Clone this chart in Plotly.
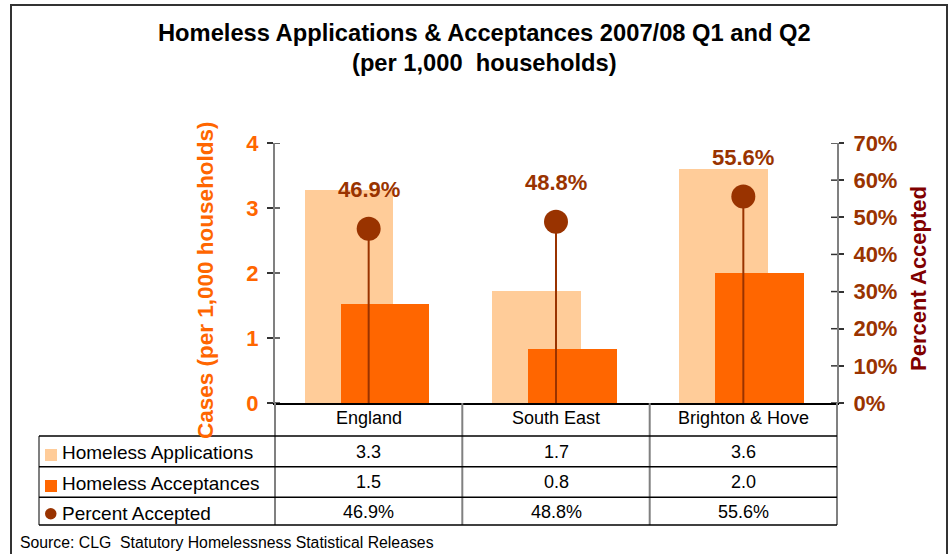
import plotly.graph_objects as go

# ---------------- data ----------------
categories = ["England", "South East", "Brighton & Hove"]
applications = [3.28, 1.72, 3.60]          # cases per 1,000 households
acceptances = [1.52, 0.83, 2.00]           # cases per 1,000 households
percent_accepted = [46.9, 48.8, 55.6]      # %
left_ticks = [0, 1, 2, 3, 4]
right_ticks = [0, 0.1, 0.2, 0.3, 0.4, 0.5, 0.6, 0.7]
row_labels = ["Homeless Applications", "Homeless Acceptances", "Percent Accepted"]

# ---------------- layout geometry (window pixels) ----------------
W, H = 952, 554
PL, PR, PT, PB = 275, 837, 143, 403      # plot area
PW, PHh = PR - PL, PB - PT

def px(x):
    return (x - PL) / PW

def py(y):
    return (PB - y) / PHh

FONT = "Liberation Sans, Arial, Helvetica, sans-serif"
C_APP = "#FFCC99"
C_ACC = "#FF6600"
C_PCT = "#993300"
C_PCT_TITLE = "#800000"
C_AXIS = "#808080"

fig = go.Figure()

fig.add_trace(go.Bar(
    x=categories, y=applications, name=row_labels[0],
    marker=dict(color=C_APP, line=dict(width=0)),
    width=0.473, offset=-0.342, showlegend=False, hoverinfo="y",
))
fig.add_trace(go.Bar(
    x=categories, y=acceptances, name=row_labels[1],
    marker=dict(color=C_ACC, line=dict(width=0)),
    width=0.473, offset=-0.150, showlegend=False, hoverinfo="y",
))
pct_frac = [v / 100 for v in percent_accepted]
fig.add_trace(go.Scatter(
    x=categories, y=pct_frac, yaxis="y2", mode="markers", name=row_labels[2],
    marker=dict(color=C_PCT, size=24, line=dict(width=0)),
    error_y=dict(type="data", symmetric=False, array=[0] * len(pct_frac),
                 arrayminus=pct_frac, color=C_PCT, thickness=2, width=0),
    showlegend=False,
))

annotations = []
shapes = []

# percent labels above dots
for c, v in zip(categories, percent_accepted):
    annotations.append(dict(
        x=c, y=v / 100, xref="x", yref="y2", yshift=39, showarrow=False,
        text=f"{v:.1f}%", font=dict(family=FONT, size=22, color=C_PCT, weight="bold"),
        xanchor="center", yanchor="middle",
    ))

# title
annotations.append(dict(x=px(484), y=py(33), xref="paper", yref="paper", showarrow=False,
                        text="Homeless Applications & Acceptances 2007/08 Q1 and Q2",
                        font=dict(family=FONT, size=23.7, color="#000000", weight="bold"),
                        xanchor="center", yanchor="middle"))
annotations.append(dict(x=px(484), y=py(63), xref="paper", yref="paper", showarrow=False,
                        text="(per 1,000\u00a0 households)",
                        font=dict(family=FONT, size=23.7, color="#000000", weight="bold"),
                        xanchor="center", yanchor="middle"))

# axis titles
annotations.append(dict(x=px(205), y=py(280), xref="paper", yref="paper", showarrow=False,
                        text="Cases (per 1,000 households)", textangle=-90,
                        font=dict(family=FONT, size=22.5, color=C_ACC, weight="bold"),
                        xanchor="center", yanchor="middle"))
annotations.append(dict(x=px(918), y=py(279), xref="paper", yref="paper", showarrow=False,
                        text="Percent Accepted", textangle=-90,
                        font=dict(family=FONT, size=22, color=C_PCT_TITLE, weight="bold"),
                        xanchor="center", yanchor="middle"))

# inside parts of crossing tick marks
for t in left_ticks:
    shapes.append(dict(type="line", xref="paper", yref="y", x0=px(275), x1=px(280), y0=t, y1=t,
                       line=dict(color="#333333", width=1.5)))
for t in right_ticks:
    shapes.append(dict(type="line", xref="paper", yref="y2", x0=px(831), x1=px(837), y0=t, y1=t,
                       line=dict(color="#333333", width=1.5)))

# ---------------- data table ----------------
col_edges = [275, 462.3, 649.7, 837]
col_centers = [(col_edges[i] + col_edges[i + 1]) / 2 for i in range(3)]
row_lines = [436, 466.7, 497.3, 525]
row_centers = [451.7, 482.3, 512.3]
cat_row_center = 418

for xe in col_edges:
    shapes.append(dict(type="line", xref="paper", yref="paper", x0=px(xe), x1=px(xe),
                       y0=py(403), y1=py(525), line=dict(color=C_AXIS, width=2)))
shapes.append(dict(type="line", xref="paper", yref="paper", x0=px(39), x1=px(39),
                   y0=py(436), y1=py(525), line=dict(color="#555555", width=1.5)))
for yl in row_lines:
    shapes.append(dict(type="line", xref="paper", yref="paper", x0=px(39), x1=px(837),
                       y0=py(yl), y1=py(yl), line=dict(color="#000000", width=1.5)))

for c, xc in zip(categories, col_centers):
    annotations.append(dict(x=px(xc), y=py(cat_row_center), xref="paper", yref="paper",
                            showarrow=False, text=c,
                            font=dict(family=FONT, size=18, color="#000000"),
                            xanchor="center", yanchor="middle"))

table_rows = [
    [f"{v:.1f}" for v in applications],
    [f"{v:.1f}" for v in acceptances],
    [f"{v:.1f}%" for v in percent_accepted],
]
for r, vals in enumerate(table_rows):
    for xc, s in zip(col_centers, vals):
        annotations.append(dict(x=px(xc), y=py(row_centers[r]), xref="paper", yref="paper",
                                showarrow=False, text=s,
                                font=dict(family=FONT, size=18, color="#000000"),
                                xanchor="center", yanchor="middle"))
    annotations.append(dict(x=px(60), y=py(row_centers[r] + 1), xref="paper", yref="paper",
                            showarrow=False, text=row_labels[r],
                            font=dict(family=FONT, size=19, color="#000000"),
                            xanchor="left", yanchor="middle"))

shapes.append(dict(type="rect", xref="paper", yref="paper", x0=px(45), x1=px(57),
                   y0=py(461), y1=py(449), fillcolor=C_APP, line=dict(width=0)))
shapes.append(dict(type="rect", xref="paper", yref="paper", x0=px(45), x1=px(57),
                   y0=py(492), y1=py(480), fillcolor=C_ACC, line=dict(width=0)))
shapes.append(dict(type="circle", xref="paper", yref="paper", x0=px(45), x1=px(56.5),
                   y0=py(519.5), y1=py(508), fillcolor=C_PCT, line=dict(width=0)))

annotations.append(dict(x=px(18), y=py(542), xref="paper", yref="paper", showarrow=False,
                        text="Source: CLG\u00a0 Statutory Homelessness Statistical Releases",
                        font=dict(family=FONT, size=15.8, color="#000000"),
                        xanchor="left", yanchor="middle"))

# outer chart border
shapes.append(dict(type="rect", xref="paper", yref="paper", x0=px(11), x1=px(947),
                   y0=py(560), y1=py(5), line=dict(color="#333333", width=2),
                   fillcolor="rgba(0,0,0,0)", layer="below"))

fig.update_layout(
    width=W, height=H, autosize=False,
    margin=dict(l=PL, r=W - PR, t=PT, b=H - PB, pad=0),
    paper_bgcolor="white", plot_bgcolor="white",
    barmode="overlay", bargap=0,
    showlegend=False,
    xaxis=dict(type="category", range=[-0.5, 2.5], showticklabels=False, ticks="",
               showgrid=False, zeroline=False, showline=True, linecolor="#000000",
               linewidth=1.5, fixedrange=True),
    yaxis=dict(range=[0, 4], tickvals=left_ticks, ticks="outside", ticklen=6,
               tickwidth=1.5, tickcolor="#333333", showline=True, linecolor=C_AXIS,
               linewidth=2, showgrid=False, zeroline=False,
               tickfont=dict(family=FONT, size=22, color=C_ACC, weight="bold"),
               ticklabelstandoff=4),
    yaxis2=dict(range=[0, 0.7], tickvals=right_ticks, tickformat=".0%", overlaying="y",
                side="right", ticks="outside", ticklen=5, tickwidth=1.5,
                tickcolor="#333333", showline=True, linecolor=C_AXIS, linewidth=2,
                showgrid=False, zeroline=False,
                tickfont=dict(family=FONT, size=22, color=C_PCT, weight="bold"),
                ticklabelstandoff=5),
    annotations=annotations,
    shapes=shapes,
)

fig.write_html(
    "out.html",
    config={"displayModeBar": False},
    post_script="document.body.style.margin='0';document.body.style.overflow='hidden';",
)
